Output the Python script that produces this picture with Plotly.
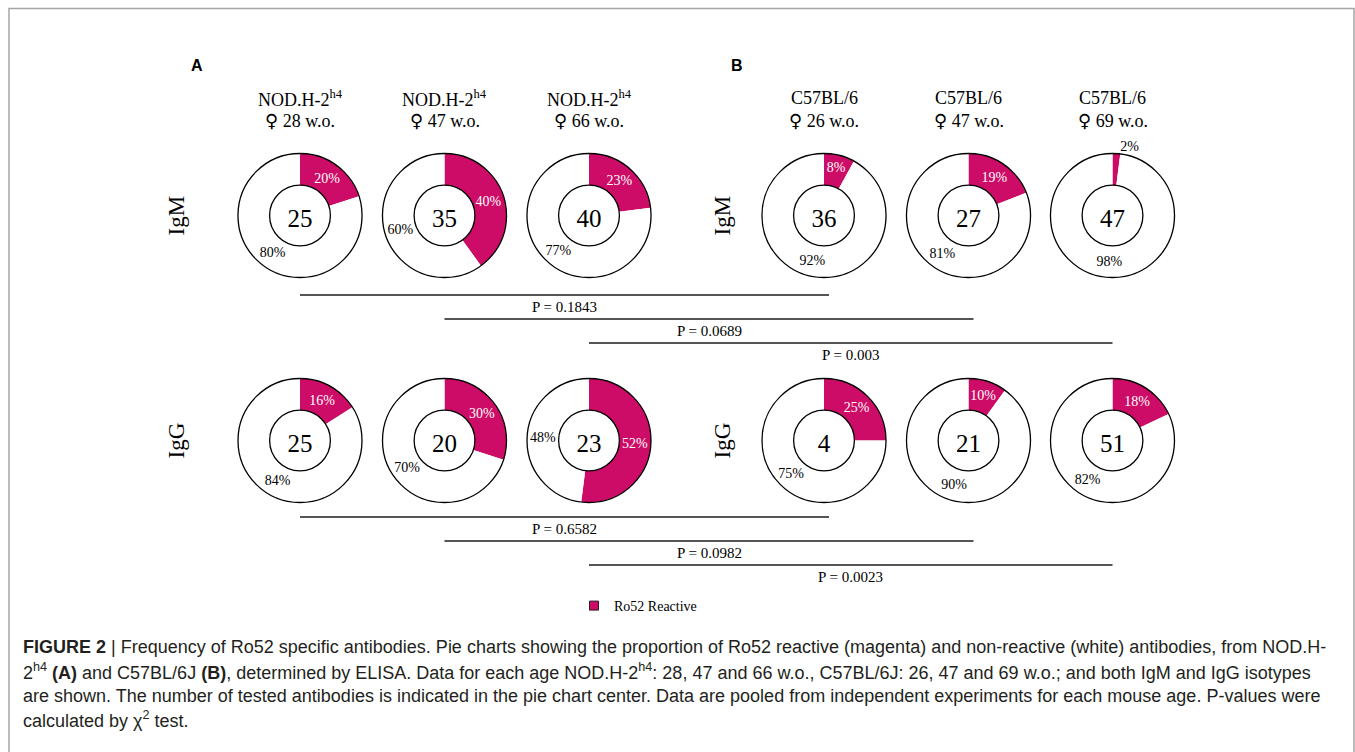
import plotly.graph_objects as go

W, H = 1355, 752

# ---------------- data ----------------
strains = ["NOD.H-2<sup>h4</sup>"] * 3 + ["C57BL/6"] * 3
ages = ["28", "47", "66", "26", "47", "69"]
isotypes = ["IgM", "IgG"]
igm_n = [25, 35, 40, 36, 27, 47]
igm_reactive = [20, 40, 23, 8, 19, 2]
igm_nonreactive = [80, 60, 77, 92, 81, 98]
igg_n = [25, 20, 23, 4, 21, 51]
igg_reactive = [16, 30, 52, 25, 10, 18]
igg_nonreactive = [84, 70, 48, 75, 90, 82]
igm_p = ["0.1843", "0.0689", "0.003"]
igg_p = ["0.6582", "0.0982", "0.0023"]
slice_labels = ["Ro52 Reactive", "Non-reactive"]

caption_lines = [
    "<b>FIGURE 2</b> | Frequency of Ro52 specific antibodies. Pie charts showing the proportion of Ro52 reactive (magenta) and non-reactive (white) antibodies, from NOD.H-",
    "2<sup>h4</sup> <b>(A)</b> and C57BL/6J <b>(B)</b>, determined by ELISA. Data for each age NOD.H-2<sup>h4</sup>: 28, 47 and 66 w.o., C57BL/6J: 26, 47 and 69 w.o.; and both IgM and IgG isotypes",
    "are shown. The number of tested antibodies is indicated in the pie chart center. Data are pooled from independent experiments for each mouse age. P-values were",
    "calculated by χ<sup>2</sup> test.",
]

# ---------------- layout helpers ----------------
MAG = "#CC0C66"
SERIF = "Liberation Serif, Times New Roman, serif"
SANS = "Liberation Sans, Arial, sans-serif"

col_x = [300, 444.5, 589, 824, 968.5, 1112.5]
row_y = [215.5, 440.5]
R = 62
HOLE = 0.49


def px(x):
    return x / W


def py(y):
    return 1 - y / H


def note(x, y, text, font, **kw):
    d = dict(x=px(x), y=py(y), xref="paper", yref="paper", text=text,
             showarrow=False, xanchor="center", yanchor="middle", font=font)
    d.update(kw)
    return d


fig = go.Figure()

rows = [
    (igm_n, igm_reactive, igm_nonreactive, igm_p),
    (igg_n, igg_reactive, igg_nonreactive, igg_p),
]

annotations = []
shapes = []

for ri, (ns, rea, non, pv) in enumerate(rows):
    cy = row_y[ri]
    for ci in range(6):
        cx = col_x[ci]
        dom = dict(x=[px(cx - R), px(cx + R)], y=[py(cy + R), py(cy - R)])
        r, nr = rea[ci], non[ci]
        fig.add_trace(go.Pie(
            values=[r, nr],
            labels=slice_labels,
            text=[f"{r}%", f"{nr}%"],
            textinfo="text",
            textposition=["outside" if r < 5 else "inside", "inside"],
            insidetextorientation="horizontal",
            sort=False,
            direction="clockwise",
            rotation=0,
            hole=HOLE,
            marker=dict(colors=[MAG, "white"], line=dict(width=0)),
            textfont=dict(family=SERIF, size=14, color=["white", "black"]),
            outsidetextfont=dict(family=SERIF, size=14, color="black"),
            title=dict(text=str(ns[ci]), position="middle center",
                       font=dict(family=SERIF, size=25, color="black")),
            domain=dom,
            showlegend=False,
            hoverinfo="label+percent",
        ))
        # ring outline
        fig.add_trace(go.Pie(
            values=[1],
            labels=["outline"],
            sort=False,
            hole=HOLE,
            marker=dict(colors=["rgba(0,0,0,0)"], line=dict(color="black", width=1.3)),
            textinfo="none",
            textposition="none",
            hoverinfo="skip",
            domain=dom,
            showlegend=False,
        ))
    # row labels
    for lx in (176, 722):
        annotations.append(note(lx, cy, isotypes[ri],
                                dict(family=SERIF, size=23, color="black"), textangle=-90))
    # comparison bars
    base = 295 if ri == 0 else 517
    for k in range(3):
        x0, x1 = col_x[k], col_x[k + 3] + (5 if k < 2 else 0)
        yl = base + 24 * k
        shapes.append(dict(type="line", xref="paper", yref="paper",
                           x0=px(x0), x1=px(x1), y0=py(yl), y1=py(yl),
                           line=dict(color="#555555", width=2)))
        annotations.append(note((x0 + x1) / 2, yl + 12, f"P = {pv[k]}",
                                dict(family=SERIF, size=15, color="black")))

# column titles
for ci in range(6):
    annotations.append(note(col_x[ci], 98, strains[ci],
                            dict(family=SERIF, size=18, color="black")))
    annotations.append(note(col_x[ci], 121,
                            f"<span style=\"font-family:'DejaVu Sans'\">♀</span> {ages[ci]} w.o.",
                            dict(family=SERIF, size=18, color="black")))

# panel letters
for lab, lx in (("A", 197), ("B", 737)):
    annotations.append(note(lx, 65, f"<b>{lab}</b>", dict(family=SANS, size=16, color="black")))

# caption
for i, line in enumerate(caption_lines):
    annotations.append(note(21, 647 + 24.3 * i, line,
                            dict(family=SANS, size=18, color="#231f20"), xanchor="left"))

# frame
shapes.append(dict(type="rect", xref="paper", yref="paper",
                   x0=px(9), x1=px(1354), y0=-0.02, y1=py(8.5),
                   line=dict(color="#a5a5a5", width=1.5), fillcolor="rgba(0,0,0,0)"))

# legend entry
fig.add_trace(go.Scatter(x=[None], y=[None], mode="markers", name="Ro52 Reactive",
                         marker=dict(symbol="square", size=9, color=MAG,
                                     line=dict(color="#222222", width=1)),
                         showlegend=True, hoverinfo="skip"))

fig.update_layout(
    width=W, height=H,
    margin=dict(l=0, r=0, t=0, b=0),
    paper_bgcolor="white", plot_bgcolor="white",
    xaxis=dict(visible=False), yaxis=dict(visible=False),
    showlegend=True,
    legend=dict(x=px(574), y=py(606), xanchor="left", yanchor="middle",
                bgcolor="rgba(0,0,0,0)", font=dict(family=SERIF, size=14, color="black")),
    uniformtext=dict(mode="show", minsize=14),
    annotations=annotations,
    shapes=shapes,
)

fig.write_html("out.html", config={"displayModeBar": False},
               post_script="document.body.style.margin='0px';")
